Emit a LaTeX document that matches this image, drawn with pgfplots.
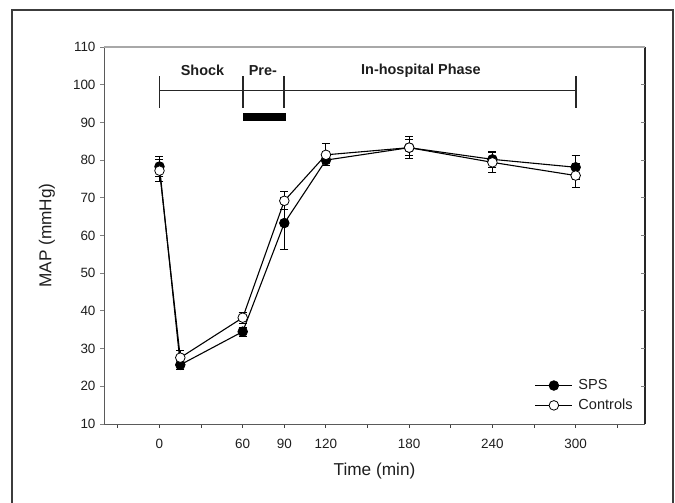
\documentclass[border=0pt]{standalone}
\usepackage{pgfplots}
\pgfplotsset{compat=1.18}
\usepackage{pgfplotstable}
\usepackage{fontspec}
\setmainfont{Liberation Sans}
\definecolor{txt}{HTML}{1E1E1E}
\definecolor{spine}{HTML}{5A5A5A}
\definecolor{topspine}{HTML}{A8A8A8}
\definecolor{frame}{HTML}{3C3C3C}

\pgfplotstableread{
t y e
0 78.3 2.6
15 25.7 1.2
60 34.5 1.2
90 63.3 6.9
120 80.0 1.5
180 83.3 2.2
240 80.2 2.2
300 78.1 3.2
}\sps
\pgfplotstableread{
t y e
0 77.2 3.0
15 27.6 1.8
60 38.2 1.5
90 69.2 2.4
120 81.4 2.9
180 83.3 3.0
240 79.4 2.6
300 75.9 3.3
}\ctrl

\begin{document}
\begin{tikzpicture}
\useasboundingbox (0,0) rectangle (675bp,503bp);
\draw[line width=2bp, frame] (12bp,-5bp) -- (12bp,493bp) -- (673bp,493bp) -- (673bp,-5bp);
\begin{axis}[
  at={(104bp,79bp)}, anchor=south west,
  scale only axis, width=541bp, height=377bp,
  xmin=-40, xmax=350, ymin=10, ymax=110,
  clip=false,
  axis line style={draw=none},
  xtick={-30,0,30,60,90,120,150,180,210,240,270,300,330},
  xticklabels={,0,,60,90,120,,180,,240,,300,},
  ytick={10,20,...,110},
  xtick pos=bottom, ytick pos=left,
  tick align=outside,
  major tick length=4bp,
  x tick style={black!75, line width=1pt},
  y tick style={black!50, line width=0.9pt},
  /pgf/number format/assume math mode=true,
  ticklabel style={font=\fontsize{13.5}{15}\selectfont, text=txt},
  xticklabel style={yshift=-8bp},
  yticklabel style={xshift=-1bp},
  xlabel={Time (min)}, ylabel={MAP (mmHg)},
  every axis x label/.style={at={(axis description cs:0.5,-0.124)}, anchor=center,
    font=\fontsize{17.3}{19}\selectfont, text=txt},
  every axis y label/.style={at={(axis description cs:-0.1054,0.5)}, rotate=90, anchor=center,
    font=\fontsize{17.3}{19}\selectfont, text=txt},
  legend style={at={(axis description cs:0.796,0.122)}, anchor=north west,
    draw=none, fill=none, inner sep=0pt, row sep=5bp,
    font=\fontsize{14.6}{16}\selectfont, text=txt,
    nodes={inner sep=1.5bp},
    /tikz/every odd column/.append style={column sep=4bp}},
  legend cell align=left,
  legend image code/.code={\draw[mark repeat=2, mark phase=2] plot coordinates {(0bp,0bp) (18.5bp,0bp) (37bp,0bp)};},
]
% spines
\draw[spine, line width=1pt] (rel axis cs:0,1) -- (rel axis cs:0,0) -- (rel axis cs:1,0);
\draw[black!85, line width=1.1pt] (rel axis cs:1,0) -- (rel axis cs:1,1);
\draw[topspine, line width=1.3pt] (rel axis cs:0,1) -- (rel axis cs:1,1);
\pgfplotsinvokeforeach{20,30,...,100}{\draw[black!50, line width=0.9pt] (axis cs:350,#1) -- ++(-4bp,0pt);}
% timeline
\draw[black!85, line width=1.4pt] (axis cs:0,98.5) -- (axis cs:300,98.5);
\pgfplotsinvokeforeach{0,60,90,300}{\draw[black!85, line width=1.8pt] (axis cs:#1,102.2) -- (axis cs:#1,93.7);}
\fill[black] (axis cs:60,90.4) rectangle (axis cs:91,92.4);
\node[font=\bfseries\fontsize{14.5}{16}\selectfont, text=txt] at (axis cs:31,103.8) {Shock};
\node[font=\bfseries\fontsize{14.5}{16}\selectfont, text=txt] at (axis cs:74.5,103.8) {Pre-};
\node[font=\bfseries\fontsize{14.5}{16}\selectfont, text=txt] at (axis cs:188.5,103.8) {In-hospital Phase};
% data
\addplot[black, line width=1.1pt, mark=*, mark size=4.8bp, mark options={fill=black, line width=0.8pt},
  error bars/.cd, y dir=both, y explicit,
  error bar style={line width=1pt, black},
  error mark options={rotate=90, mark size=4bp, line width=1pt, black}]
  table[x=t, y=y, y error=e] {\sps};
\addlegendentry{SPS}
\addplot[black, line width=1.1pt, mark=*, mark size=4.8bp, mark options={fill=white, line width=0.8pt},
  error bars/.cd, y dir=both, y explicit,
  error bar style={line width=1pt, black},
  error mark options={rotate=90, mark size=4bp, line width=1pt, black}]
  table[x=t, y=y, y error=e] {\ctrl};
\addlegendentry{Controls}
\end{axis}
\end{tikzpicture}
\end{document}
